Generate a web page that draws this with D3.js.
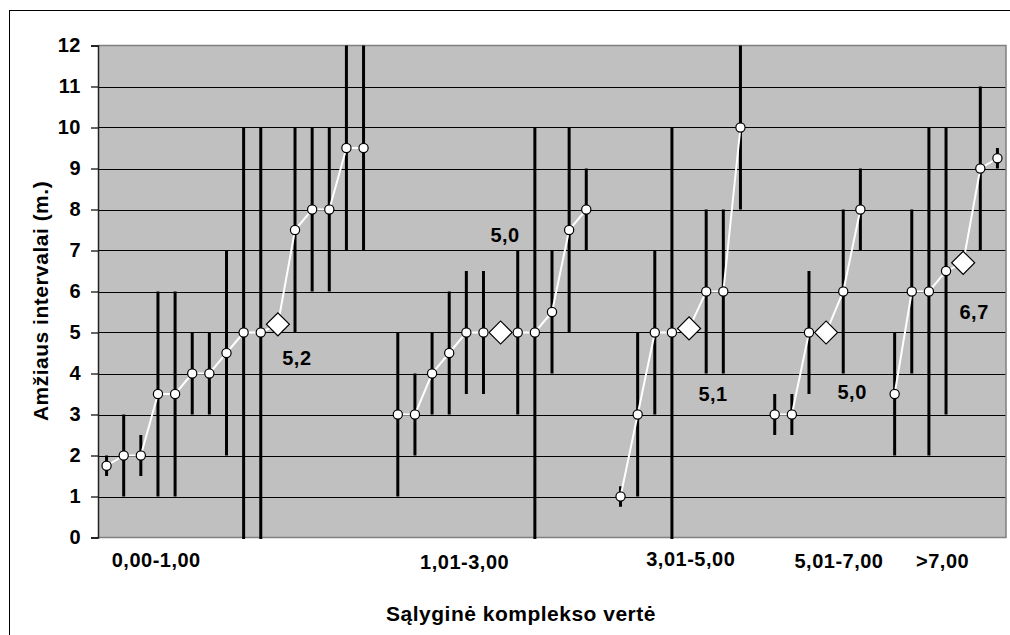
<!DOCTYPE html>
<html><head><meta charset="utf-8">
<script src="https://cdn.jsdelivr.net/npm/d3@7"></script>
<style>
html,body{margin:0;padding:0;background:#fff;}
svg text{font-family:"Liberation Sans",Arial,Helvetica,sans-serif;font-weight:bold;fill:#000;}
</style></head>
<body><svg id="c" width="1010" height="635"></svg>
<script>
// ---- data ----
const categories = ["0,00-1,00", "1,01-3,00", "3,01-5,00", "5,01-7,00", ">7,00"];
const g1Values = [1.75, 2, 2, 3.5, 3.5, 4, 4, 4.5, 5, 5, 5.2, 7.5, 8, 8, 9.5, 9.5];
const g1Low    = [1.5, 1, 1.5, 1, 1, 3, 3, 2, 0, 0, null, 5, 6, 6, 7, 7];
const g1High   = [2, 3, 2.5, 6, 6, 5, 5, 7, 10, 10, null, 10, 10, 10, 12, 12];
const g2Values = [3, 3, 4, 4.5, 5, 5, 5.0, 5, 5, 5.5, 7.5, 8];
const g2Low    = [1, 2, 3, 3, 3.5, 3.5, null, 3, 0, 4, 5, 7];
const g2High   = [5, 4, 5, 6, 6.5, 6.5, null, 7, 10, 7, 10, 9];
const g3Values = [1, 3, 5, 5, 5.1, 6, 6, 10];
const g3Low    = [0.75, 1, 3, 0, null, 4, 4, 8];
const g3High   = [1.25, 5, 7, 10, null, 8, 8, 12];
const g4Values = [3, 3, 5, 5.0, 6, 8];
const g4Low    = [2.5, 2.5, 3.5, null, 4, 7];
const g4High   = [3.5, 3.5, 6.5, null, 8, 9];
const g5Values = [3.5, 6, 6, 6.5, 6.7, 9, 9.25];
const g5Low    = [2, 4, 2, 3, null, 7, 9];
const g5High   = [5, 8, 10, 10, null, 11, 9.5];
const meanIndex  = [10, 6, 4, 3, 4];
const meanLabels = ["5,2", "5,0", "5,1", "5,0", "6,7"];
const yTicks = [0, 1, 2, 3, 4, 5, 6, 7, 8, 9, 10, 11, 12];
const yTitle = "Amžiaus intervalai (m.)";
const xTitle = "Sąlyginė komplekso vertė";

// ---- layout (not data) ----
const catLabelSlot = [2.9, 20.9, 34.1, 42.75, 48.8];
const catLabelBase = [567, 569, 565.5, 568, 568];
const meanLabelOff = [[19, 41], [4.5, -91], [24, 73], [26, 66], [11, 56]];

const groups = [
  {v: g1Values, lo: g1Low, hi: g1High},
  {v: g2Values, lo: g2Low, hi: g2High},
  {v: g3Values, lo: g3Low, hi: g3High},
  {v: g4Values, lo: g4Low, hi: g4High},
  {v: g5Values, lo: g5Low, hi: g5High}
];
let slot = 0;
groups.forEach((g, gi) => {
  g.pts = g.v.map((val, i) => ({slot: slot + i, v: val, lo: g.lo[i], hi: g.hi[i], mean: i === meanIndex[gi]}));
  slot += g.v.length + 1;
});
const nSlots = slot - 1;

const svg = d3.select("#c");
const L = 98, R = 1006, T = 45.5, B = 537.5;
const x = d3.scaleBand().domain(d3.range(nSlots)).range([L, R]);
const cx = s => x(s) + x.bandwidth() / 2;
const y = d3.scaleLinear().domain([0, 12]).range([B, T]);

// outer frame
svg.append("rect").attr("x", 9.5).attr("y", 10.5).attr("width", 1010).attr("height", 640)
  .attr("fill", "#fff").attr("stroke", "#000").attr("stroke-width", 1);

// plot area
svg.append("rect").attr("x", L).attr("y", T).attr("width", R - L).attr("height", B - T)
  .attr("fill", "#c0c0c0");

// grid
svg.append("g").selectAll("line").data(yTicks.filter(t => t > 0 && t < 12)).join("line")
  .attr("x1", L).attr("x2", R)
  .attr("y1", d => Math.round(y(d)) + 0.5).attr("y2", d => Math.round(y(d)) + 0.5)
  .attr("stroke", "#000").attr("stroke-width", 1.2);

// plot border (top/right/bottom)
svg.append("path").attr("d", `M${L},${T}H${R}V${B}H${L}`).attr("fill", "none")
  .attr("stroke", "#808080").attr("stroke-width", 1.5);

// y axis
const ax = svg.append("g").attr("transform", `translate(${L},0)`)
  .call(d3.axisLeft(y).tickValues(yTicks).tickSize(7).tickPadding(10).tickFormat(d3.format("d")));
ax.select(".domain").attr("stroke", "#222").attr("stroke-width", 1.5);
ax.selectAll(".tick line").attr("stroke", "#000").attr("stroke-width", 1.2);
ax.selectAll("text").attr("font-size", 20).attr("font-family", null).attr("letter-spacing", "0.5px")
  .style("font-family", '"Liberation Sans",Arial,sans-serif').style("font-weight", "bold").attr("fill", "#000");

// error bars
const allPts = groups.flatMap(g => g.pts);
svg.append("g").selectAll("line").data(allPts.filter(p => p.lo != null)).join("line")
  .attr("x1", p => cx(p.slot)).attr("x2", p => cx(p.slot))
  .attr("y1", p => y(p.lo) + (p.lo === 0 ? 1.5 : 0)).attr("y2", p => y(p.hi))
  .attr("stroke", "#000").attr("stroke-width", 3);

// white connecting lines
const line = d3.line().x(p => cx(p.slot)).y(p => y(p.v));
svg.append("g").selectAll("path").data(groups).join("path")
  .attr("d", g => line(g.pts)).attr("fill", "none").attr("stroke", "#fff").attr("stroke-width", 2);

// markers
svg.append("g").selectAll("circle").data(allPts.filter(p => !p.mean)).join("circle")
  .attr("cx", p => cx(p.slot)).attr("cy", p => y(p.v)).attr("r", 4.6)
  .attr("fill", "#fff").attr("stroke", "#000").attr("stroke-width", 1.2);
const diamond = d3.symbol().type(d3.symbolSquare).size(265);
svg.append("g").selectAll("path").data(allPts.filter(p => p.mean)).join("path")
  .attr("d", diamond)
  .attr("transform", p => `translate(${cx(p.slot)},${y(p.v)}) rotate(45)`)
  .attr("fill", "#fff").attr("stroke", "#000").attr("stroke-width", 1.2);

// mean labels
svg.append("g").selectAll("text").data(groups.map((g, gi) => ({p: g.pts[meanIndex[gi]], t: meanLabels[gi], o: meanLabelOff[gi]}))).join("text")
  .attr("x", d => cx(d.p.slot) + d.o[0]).attr("y", d => y(d.p.v) + d.o[1])
  .attr("text-anchor", "middle").attr("font-size", 20).attr("letter-spacing", "0.5px").text(d => d.t);

// category labels
svg.append("g").selectAll("text").data(categories).join("text")
  .attr("x", (d, i) => cx(0) + catLabelSlot[i] * x.step())
  .attr("y", (d, i) => catLabelBase[i])
  .attr("text-anchor", "middle").attr("font-size", 20).attr("letter-spacing", "0.5px").text(d => d);

// axis titles
svg.append("text").attr("x", 521).attr("y", 621).attr("text-anchor", "middle")
  .attr("font-size", 21).attr("letter-spacing", "0.5px").text(xTitle);
svg.append("text").attr("transform", "translate(48,301) rotate(-90)").attr("text-anchor", "middle")
  .attr("font-size", 21).attr("letter-spacing", "0.5px").text(yTitle);
</script></body></html>
